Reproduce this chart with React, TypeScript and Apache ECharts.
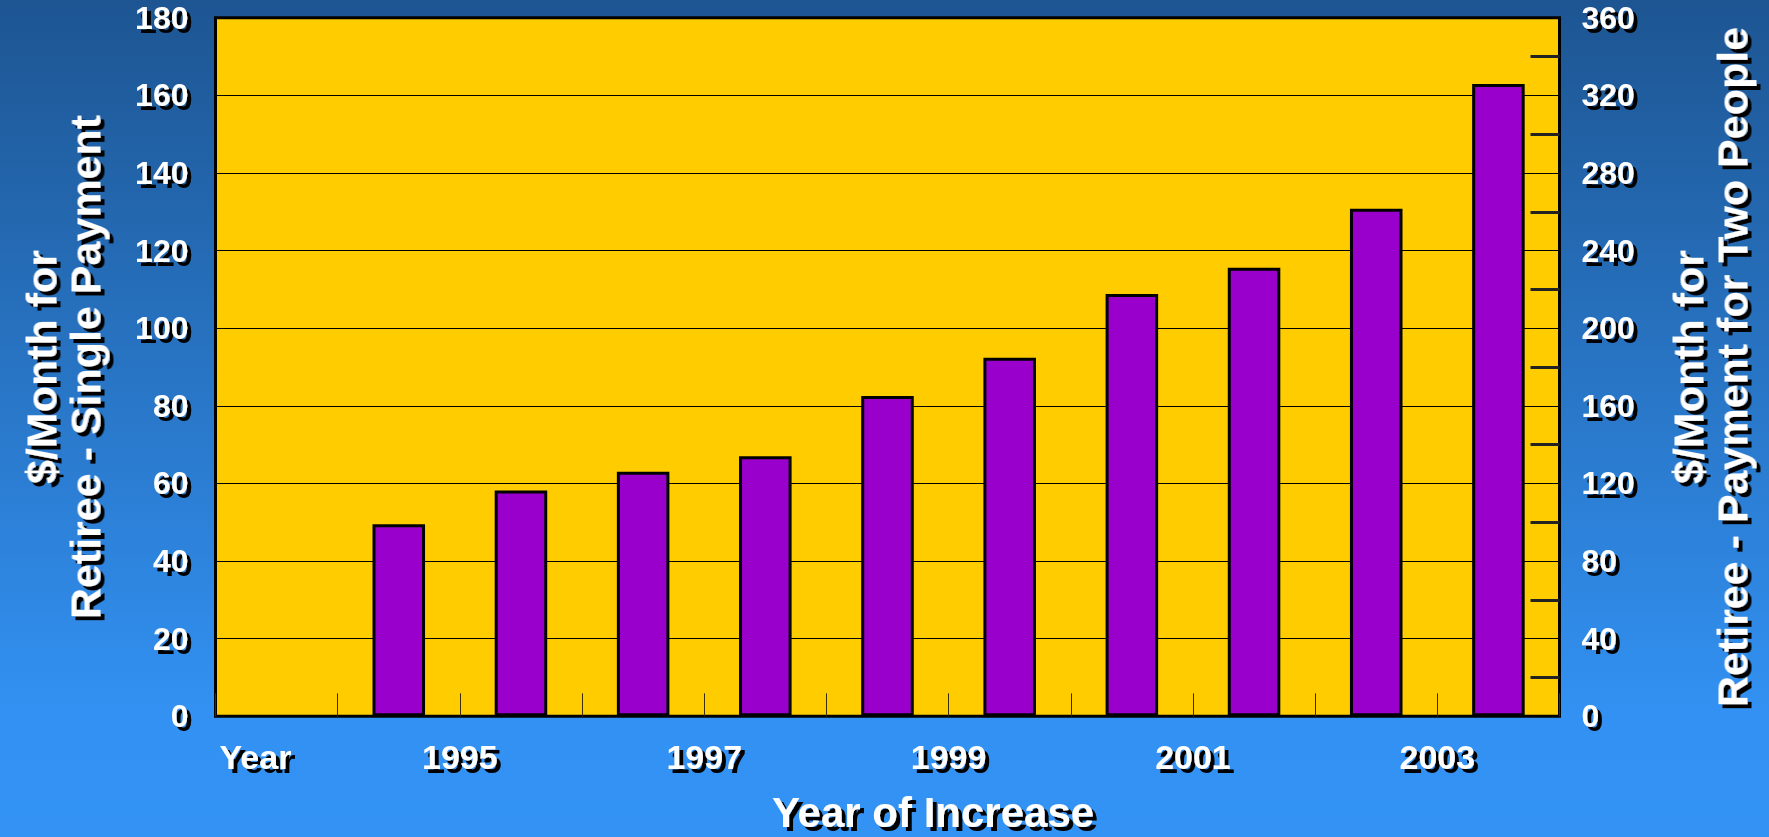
import React, { useEffect, useRef } from "react";
import * as echarts from "echarts";

// Bands along the x axis (first band is empty, holds the "Year" caption)
const bandCategories = ["", "1994", "1995", "1996", "1997", "1998", "1999", "2000", "2001", "2002", "2003"];
// Monthly increase per retiree (single payment), one bar per band ("-" = no bar)
const singlePayment: (number | string)[] = ["-", 49.5, 58.2, 63, 67, 82.5, 92.4, 108.8, 115.6, 130.8, 162.9];
// Tick labels sitting on the band boundaries (index = boundary position)
const xTickLabels = ["Year", "", "1995", "", "1997", "", "1999", "", "2001", "", "2003", ""];
const leftAxisName = "$/Month for\nRetiree - Single Payment";
const rightAxisName = "$/Month for\nRetiree - Payment for Two People";
const xAxisTitle = "Year of Increase";

const FONT = "'Liberation Sans', Arial, Helvetica, sans-serif";

export default function App() {
  const ref = useRef<HTMLDivElement>(null);
  useEffect(() => {
    if (!ref.current) return;
    const chart = echarts.init(ref.current, undefined, { renderer: "svg" });
    const labelShadow = {
      textShadowColor: "#000",
      textShadowOffsetX: 4,
      textShadowOffsetY: 4,
      textShadowBlur: 0.4,
    };
    const rotShadow = {
      textShadowColor: "#000",
      textShadowOffsetX: -4,
      textShadowOffsetY: 4,
      textShadowBlur: 0.4,
    };
    chart.setOption({
      animation: false,
      backgroundColor: {
        type: "linear",
        x: 0,
        y: 0,
        x2: 0,
        y2: 1,
        colorStops: [
          { offset: 0, color: "#1d5592" },
          { offset: 0.85, color: "#3291f2" },
          { offset: 1, color: "#3393f5" },
        ],
      },
      grid: {
        left: 215.5,
        right: 209.5,
        top: 17.7,
        bottom: 120.7,
        show: true,
        backgroundColor: "#ffcc00",
        borderColor: "#000",
        borderWidth: 3,
        z: 0,
      },
      graphic: [
        {
          type: "text",
          x: 933,
          y: 812,
          z: 100,
          style: {
            text: xAxisTitle,
            font: `bold 42px ${FONT}`,
            fill: "#fff",
            align: "center",
            verticalAlign: "middle",
            textAlign: "center",
            textVerticalAlign: "middle",
            textShadowColor: "#000",
            textShadowOffsetX: 4,
            textShadowOffsetY: 4,
            textShadowBlur: 0.4,
          },
        },
      ],
      xAxis: [
        {
          type: "category",
          data: bandCategories,
          boundaryGap: true,
          axisLine: { show: false },
          axisTick: {
            show: true,
            inside: true,
            length: 23,
            lineStyle: { color: "#3a2c00", width: 1 },
          },
          axisLabel: { show: false },
          splitLine: { show: false },
        },
        {
          type: "value",
          position: "bottom",
          min: 0,
          max: 11,
          interval: 1,
          axisLine: { show: false },
          axisTick: { show: false },
          splitLine: { show: false },
          axisLabel: {
            show: true,
            showMinLabel: true,
            showMaxLabel: true,
            margin: 24,
            color: "#fff",
            fontFamily: FONT,
            fontWeight: "bold",
            fontSize: 34,
            ...labelShadow,
            formatter: (v: number) => {
              const s = xTickLabels[Math.round(v)] || "";
              if (Math.round(v) === 0 && s) return "{y|" + s + "}";
              return s;
            },
            rich: {
              y: {
                color: "#fff",
                fontFamily: FONT,
                fontWeight: "bold",
                fontSize: 34,
                padding: [0, 0, 0, 80],
                ...labelShadow,
              },
            },
          },
        },
      ],
      yAxis: [
        {
          type: "value",
          position: "left",
          min: 0,
          max: 180,
          interval: 20,
          axisLine: { show: false },
          axisTick: { show: false },
          splitLine: { show: true, lineStyle: { color: "#000", width: 1 } },
          axisLabel: {
            margin: 27,
            color: "#fff",
            fontFamily: FONT,
            fontWeight: "bold",
            fontSize: 32,
            ...labelShadow,
          },
          name: leftAxisName,
          nameLocation: "middle",
          nameRotate: 90,
          nameGap: 108,
          nameTextStyle: {
            color: "#fff",
            fontFamily: FONT,
            fontWeight: "bold",
            fontSize: 43,
            lineHeight: 44,
            align: "center",
            ...rotShadow,
          },
        },
        {
          type: "value",
          position: "right",
          min: 0,
          max: 360,
          interval: 40,
          axisLine: { show: false },
          axisTick: { show: false, inside: true },
          minorTick: {
            show: true,
            splitNumber: 2,
            length: 29,
            lineStyle: { color: "#222", width: 3 },
          },
          splitLine: { show: false },
          axisLabel: {
            margin: 22,
            color: "#fff",
            fontFamily: FONT,
            fontWeight: "bold",
            fontSize: 32,
            ...labelShadow,
          },
          name: rightAxisName,
          nameLocation: "middle",
          nameRotate: 90,
          nameGap: 107,
          nameTextStyle: {
            color: "#fff",
            fontFamily: FONT,
            fontWeight: "bold",
            fontSize: 43,
            lineHeight: 44,
            align: "center",
            ...rotShadow,
          },
        },
      ],
      series: [
        {
          type: "bar",
          xAxisIndex: 0,
          yAxisIndex: 0,
          data: singlePayment,
          barWidth: "43%",
          itemStyle: {
            color: "#9900cc",
            borderColor: "#000",
            borderWidth: 3,
          },
          z: 3,
        },
      ],
    });
    return () => chart.dispose();
  }, []);
  return (
    <div
      ref={ref}
      style={{ position: "fixed", left: 0, top: 0, width: 1769, height: 837 }}
    />
  );
}
